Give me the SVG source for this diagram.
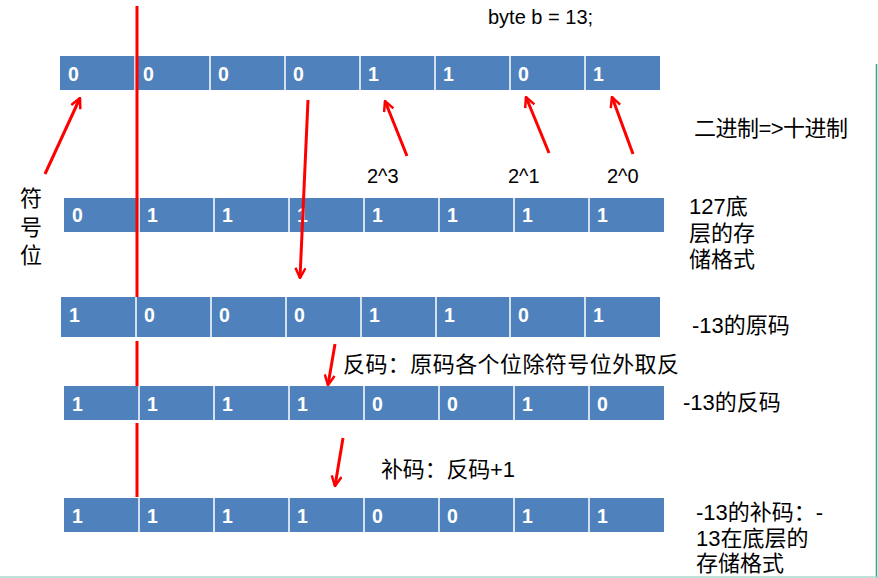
<svg xmlns="http://www.w3.org/2000/svg" width="878" height="578" viewBox="0 0 878 578">
<defs>
<style>
.cell{fill:#4f81bd}
.div{stroke:#ffffff;stroke-width:1.5}
.bit{font-family:"Liberation Sans",sans-serif;font-weight:bold;font-size:19.5px;fill:#ffffff}
.lbl{font-family:"Liberation Sans","Noto Sans CJK SC",sans-serif;font-size:22px;fill:#000000}
.sm{font-family:"Liberation Sans","Noto Sans CJK SC",sans-serif;font-size:20px;fill:#000000}
.arr{stroke:#ff0000;stroke-width:3;fill:none;marker-end:url(#ah)}
.red{fill:#ff0000}
</style>
<marker id="ah" viewBox="0 0 12 12" refX="11" refY="6" markerWidth="12" markerHeight="12" markerUnits="userSpaceOnUse" orient="auto">
<path d="M1,1 L11,6 L1,11" stroke="#ff0000" stroke-width="2.5" fill="none"/>
</marker>
</defs>
<rect x="0" y="0" width="878" height="578" fill="#ffffff"/>
<line x1="876.5" y1="64" x2="876.5" y2="578" stroke="#2aa58e" stroke-width="1.5"/>
<line x1="0" y1="577" x2="878" y2="577" stroke="#a8d8cc" stroke-width="1.5"/>

<g id="row1">
<rect class="cell" x="60" y="56" width="600" height="34"/>
<path class="div" d="M135,56V90M210,56V90M285,56V90M360,56V90M435,56V90M510,56V90M585,56V90"/>
<text class="bit" y="81"><tspan x="68">0</tspan><tspan x="143">0</tspan><tspan x="218">0</tspan><tspan x="293">0</tspan><tspan x="368">1</tspan><tspan x="443">1</tspan><tspan x="518">0</tspan><tspan x="593">1</tspan></text>
</g>
<g id="row2">
<rect class="cell" x="64" y="198" width="600" height="34"/>
<path class="div" d="M139,198V232M214,198V232M289,198V232M364,198V232M439,198V232M514,198V232M589,198V232"/>
<text class="bit" y="222"><tspan x="72">0</tspan><tspan x="147">1</tspan><tspan x="222">1</tspan><tspan x="297">1</tspan><tspan x="372">1</tspan><tspan x="447">1</tspan><tspan x="522">1</tspan><tspan x="597">1</tspan></text>
</g>
<g id="row3">
<rect class="cell" x="61" y="297" width="599" height="40"/>
<path class="div" d="M136,297V337M211,297V337M286,297V337M361,297V337M436,297V337M510,297V337M585,297V337"/>
<text class="bit" y="322"><tspan x="69">1</tspan><tspan x="144">0</tspan><tspan x="219">0</tspan><tspan x="294">0</tspan><tspan x="369">1</tspan><tspan x="444">1</tspan><tspan x="518">0</tspan><tspan x="593">1</tspan></text>
</g>
<g id="row4">
<rect class="cell" x="64" y="386" width="600" height="34"/>
<path class="div" d="M139,386V420M214,386V420M289,386V420M364,386V420M439,386V420M514,386V420M589,386V420"/>
<text class="bit" y="411"><tspan x="72">1</tspan><tspan x="147">1</tspan><tspan x="222">1</tspan><tspan x="297">1</tspan><tspan x="372">0</tspan><tspan x="447">0</tspan><tspan x="522">1</tspan><tspan x="597">0</tspan></text>
</g>
<g id="row5">
<rect class="cell" x="64" y="498" width="600" height="34"/>
<path class="div" d="M139,498V532M214,498V532M289,498V532M364,498V532M439,498V532M514,498V532M589,498V532"/>
<text class="bit" y="523"><tspan x="72">1</tspan><tspan x="147">1</tspan><tspan x="222">1</tspan><tspan x="297">1</tspan><tspan x="372">0</tspan><tspan x="447">0</tspan><tspan x="522">1</tspan><tspan x="597">1</tspan></text>
</g>

<g id="labels">
<text class="sm" x="488" y="24">byte b = 13;</text>
<text class="lbl" x="694" y="136" textLength="154" lengthAdjust="spacing">二进制=&gt;十进制</text>
<text class="sm" x="367" y="183">2^3</text>
<text class="sm" x="508" y="183">2^1</text>
<text class="sm" x="607" y="183">2^0</text>
<text class="lbl" x="20"><tspan x="20" y="206">符</tspan><tspan x="20" y="235">号</tspan><tspan x="20" y="263">位</tspan></text>
<text class="lbl"><tspan x="689" y="214">127底</tspan><tspan x="689" y="241">层的存</tspan><tspan x="689" y="267">储格式</tspan></text>
<text class="lbl" x="692" y="333">-13的原码</text>
<text class="lbl" x="343" y="372" textLength="336" lengthAdjust="spacing">反码：原码各个位除符号位外取反</text>
<text class="lbl" x="683" y="410">-13的反码</text>
<text class="lbl" x="381" y="477" textLength="134" lengthAdjust="spacing">补码：反码+1</text>
<text class="lbl"><tspan x="696" y="520">-13的补码：-</tspan><tspan x="696" y="546">13在底层的</tspan><tspan x="696" y="571">存储格式</tspan></text>
</g>

<g id="connectors">
<rect class="red" x="135.5" y="6" width="3" height="291"/>
<rect class="red" x="135.5" y="341" width="3" height="45"/>
<rect class="red" x="135.5" y="423" width="3" height="74"/>
<line class="arr" x1="45" y1="174" x2="80" y2="98"/>
<line class="arr" x1="308" y1="100" x2="300" y2="278"/>
<line class="arr" x1="407" y1="156" x2="385" y2="101"/>
<line class="arr" x1="549" y1="153" x2="526" y2="97"/>
<line class="arr" x1="633" y1="154" x2="612" y2="97"/>
<line class="arr" x1="335" y1="344" x2="328" y2="385"/>
<line class="arr" x1="343" y1="438" x2="335" y2="486"/>
</g>
</svg>
